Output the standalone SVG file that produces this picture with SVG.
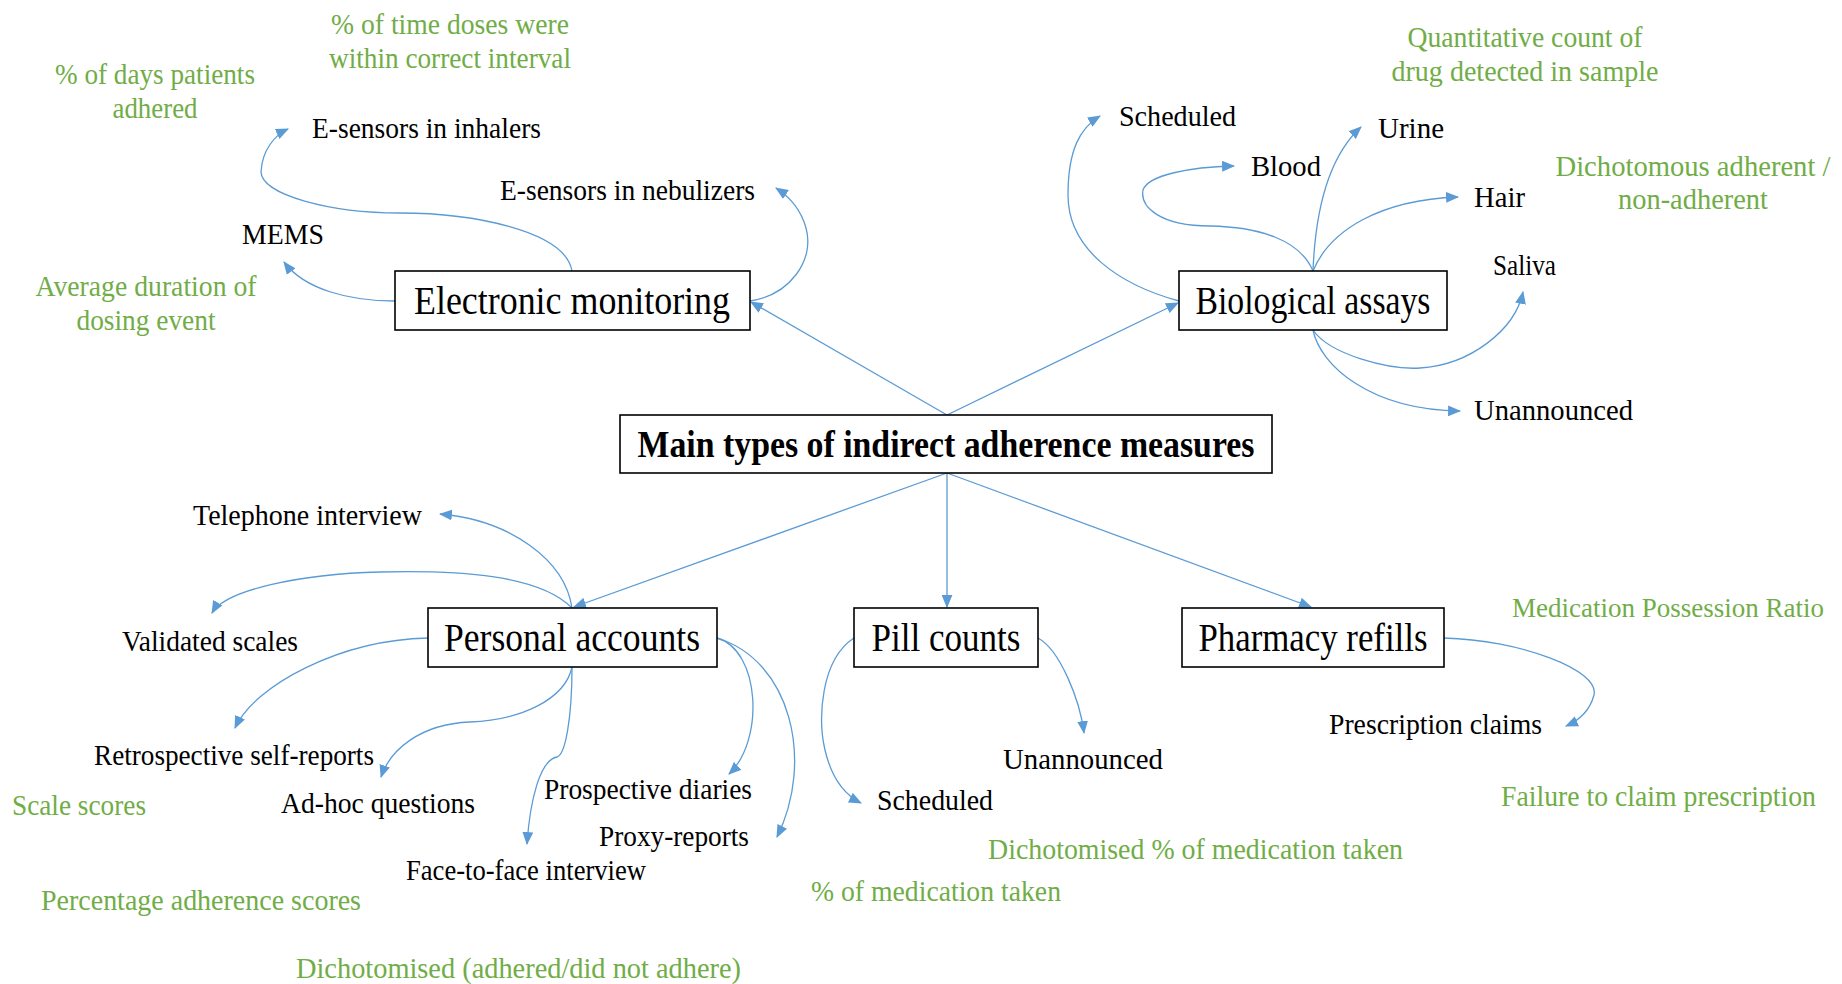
<svg xmlns="http://www.w3.org/2000/svg" width="1842" height="984" viewBox="0 0 1842 984">
  <style>
    .box { fill: #ffffff; stroke: #000000; stroke-width: 1.6; }
    .title { font-family: "Liberation Serif", "Times New Roman", serif; font-size: 38px; font-weight: bold; fill: #000000; }
    .head { font-family: "Liberation Serif", "Times New Roman", serif; font-size: 40px; fill: #000000; }
    .lbl { font-family: "Liberation Serif", "Times New Roman", serif; font-size: 29px; fill: #000000; }
    .note { font-family: "Liberation Serif", "Times New Roman", serif; font-size: 29px; fill: #70AD47; }
    .c { text-anchor: middle; }
    .conn path { fill: none; stroke: #5B9BD5; stroke-width: 1.3; marker-end: url(#arr); }
  </style>
  <defs>
    <marker id="arr" viewBox="0 0 12 10" refX="11" refY="5" markerWidth="13" markerHeight="11" markerUnits="userSpaceOnUse" orient="auto">
      <path d="M0,0 L12,5 L0,10 Z" fill="#5B9BD5"/>
    </marker>
  </defs>
  <rect width="1842" height="984" fill="#ffffff"/>

  <!-- connectors -->
  <g id="connectors" class="conn">
    <!-- main to categories -->
    <path d="M947,415 L751,302"/>
    <path d="M947,415 L1178,303"/>
    <path d="M947,473 L574,607"/>
    <path d="M947,473 L947,607"/>
    <path d="M947,473 L1311,607"/>
    <!-- electronic monitoring -->
    <path d="M572,271 C565,230 470,213 400,213 C330,213 262,195 261,172 C262,150 275,135 288,129"/>
    <path d="M395,301 C350,301 305,290 284,262"/>
    <path d="M750,301 C790,295 815,260 806,228 C801,210 790,197 776,188"/>
    <!-- biological assays -->
    <path d="M1179,301 C1120,285 1068,250 1068,195 C1068,150 1080,128 1100,116"/>
    <path d="M1313,271 C1300,240 1260,227 1210,226 C1160,226 1140,207 1143,190 C1148,175 1190,167 1234,166"/>
    <path d="M1313,271 C1315,220 1325,160 1361,127"/>
    <path d="M1313,271 C1330,230 1380,200 1458,197"/>
    <path d="M1313,330 C1330,355 1390,370 1420,368 C1470,365 1515,330 1523,292"/>
    <path d="M1313,330 C1320,365 1370,410 1460,411"/>
    <!-- personal accounts -->
    <path d="M572,608 C565,560 510,520 440,514"/>
    <path d="M572,608 C540,575 460,570 380,572 C300,574 225,590 212,613"/>
    <path d="M428,638 C340,640 255,685 235,728"/>
    <path d="M572,667 C565,700 520,720 470,722 C420,724 390,750 381,777"/>
    <path d="M572,667 C572,720 565,755 557,757 C540,760 530,800 527,844"/>
    <path d="M717,638 C760,650 765,740 729,774"/>
    <path d="M717,638 C790,660 815,760 777,837"/>
    <!-- pill counts -->
    <path d="M854,638 C820,660 818,720 825,750 C832,780 845,795 861,803"/>
    <path d="M1038,638 C1060,650 1080,700 1084,733"/>
    <!-- pharmacy refills -->
    <path d="M1444,638 C1520,640 1600,670 1594,695 C1590,710 1580,720 1566,726"/>
  </g>

  <!-- central node -->
  <g id="main">
    <rect class="box" x="620" y="415" width="652" height="58"/>
    <text class="title c" x="946" y="457" textLength="617" lengthAdjust="spacingAndGlyphs">Main types of indirect adherence measures</text>
  </g>

  <g id="electronic-monitoring">
    <rect class="box" x="395" y="271" width="355" height="59"/>
    <text class="head c" x="572" y="314" textLength="316" lengthAdjust="spacingAndGlyphs">Electronic monitoring</text>
  </g>

  <g id="biological-assays">
    <rect class="box" x="1179" y="271" width="268" height="59"/>
    <text class="head c" x="1313" y="314" textLength="235" lengthAdjust="spacingAndGlyphs">Biological assays</text>
  </g>

  <g id="personal-accounts">
    <rect class="box" x="428" y="608" width="289" height="59"/>
    <text class="head c" x="572" y="651" textLength="256" lengthAdjust="spacingAndGlyphs">Personal accounts</text>
  </g>

  <g id="pill-counts">
    <rect class="box" x="854" y="608" width="184" height="59"/>
    <text class="head c" x="946" y="651" textLength="149" lengthAdjust="spacingAndGlyphs">Pill counts</text>
  </g>

  <g id="pharmacy-refills">
    <rect class="box" x="1182" y="608" width="262" height="59"/>
    <text class="head c" x="1313" y="651" textLength="229" lengthAdjust="spacingAndGlyphs">Pharmacy refills</text>
  </g>

  <!-- electronic monitoring leaves -->
  <g id="e-sensors-inhalers"><text class="lbl" x="312" y="138" textLength="229" lengthAdjust="spacingAndGlyphs">E-sensors in inhalers</text></g>
  <g id="e-sensors-nebulizers"><text class="lbl" x="500" y="200" textLength="255" lengthAdjust="spacingAndGlyphs">E-sensors in nebulizers</text></g>
  <g id="mems"><text class="lbl" x="242" y="244" textLength="82" lengthAdjust="spacingAndGlyphs">MEMS</text></g>

  <!-- biological assay leaves -->
  <g id="bio-scheduled"><text class="lbl" x="1119" y="126" textLength="117" lengthAdjust="spacingAndGlyphs">Scheduled</text></g>
  <g id="urine"><text class="lbl" x="1378" y="138" textLength="66" lengthAdjust="spacingAndGlyphs">Urine</text></g>
  <g id="blood"><text class="lbl" x="1251" y="176" textLength="70" lengthAdjust="spacingAndGlyphs">Blood</text></g>
  <g id="hair"><text class="lbl" x="1474" y="207" textLength="51" lengthAdjust="spacingAndGlyphs">Hair</text></g>
  <g id="saliva"><text class="lbl" x="1493" y="275" textLength="63" lengthAdjust="spacingAndGlyphs">Saliva</text></g>
  <g id="bio-unannounced"><text class="lbl" x="1474" y="420" textLength="159" lengthAdjust="spacingAndGlyphs">Unannounced</text></g>

  <!-- personal account leaves -->
  <g id="telephone"><text class="lbl" x="193" y="525" textLength="229" lengthAdjust="spacingAndGlyphs">Telephone interview</text></g>
  <g id="validated"><text class="lbl" x="122" y="651" textLength="176" lengthAdjust="spacingAndGlyphs">Validated scales</text></g>
  <g id="retrospective"><text class="lbl" x="94" y="765" textLength="280" lengthAdjust="spacingAndGlyphs">Retrospective self-reports</text></g>
  <g id="ad-hoc"><text class="lbl" x="281" y="813" textLength="194" lengthAdjust="spacingAndGlyphs">Ad-hoc questions</text></g>
  <g id="prospective"><text class="lbl" x="544" y="799" textLength="208" lengthAdjust="spacingAndGlyphs">Prospective diaries</text></g>
  <g id="proxy"><text class="lbl" x="599" y="846" textLength="150" lengthAdjust="spacingAndGlyphs">Proxy-reports</text></g>
  <g id="face-to-face"><text class="lbl" x="406" y="880" textLength="240" lengthAdjust="spacingAndGlyphs">Face-to-face interview</text></g>

  <!-- pill count leaves -->
  <g id="pill-unannounced"><text class="lbl" x="1003" y="769" textLength="160" lengthAdjust="spacingAndGlyphs">Unannounced</text></g>
  <g id="pill-scheduled"><text class="lbl" x="877" y="810" textLength="116" lengthAdjust="spacingAndGlyphs">Scheduled</text></g>

  <!-- pharmacy refill leaf -->
  <g id="prescription-claims"><text class="lbl" x="1329" y="734" textLength="213" lengthAdjust="spacingAndGlyphs">Prescription claims</text></g>

  <!-- outcome notes -->
  <g id="notes">
    <text class="note c" x="450" y="34" textLength="238" lengthAdjust="spacingAndGlyphs">% of time doses were</text>
    <text class="note c" x="450" y="68" textLength="242" lengthAdjust="spacingAndGlyphs">within correct interval</text>
    <text class="note c" x="155" y="84" textLength="200" lengthAdjust="spacingAndGlyphs">% of days patients</text>
    <text class="note c" x="155" y="118" textLength="85" lengthAdjust="spacingAndGlyphs">adhered</text>
    <text class="note c" x="146" y="296" textLength="221" lengthAdjust="spacingAndGlyphs">Average duration of</text>
    <text class="note c" x="146" y="330" textLength="139" lengthAdjust="spacingAndGlyphs">dosing event</text>
    <text class="note c" x="1525" y="47" textLength="235" lengthAdjust="spacingAndGlyphs">Quantitative count of</text>
    <text class="note c" x="1525" y="81" textLength="267" lengthAdjust="spacingAndGlyphs">drug detected in sample</text>
    <text class="note c" x="1693" y="176" textLength="275" lengthAdjust="spacingAndGlyphs">Dichotomous adherent /</text>
    <text class="note c" x="1693" y="209" textLength="150" lengthAdjust="spacingAndGlyphs">non-adherent</text>
    <text class="note" x="1512" y="617" style="font-size:27px">Medication Possession Ratio</text>
    <text class="note" x="1501" y="806" textLength="315" lengthAdjust="spacingAndGlyphs">Failure to claim prescription</text>
    <text class="note" x="988" y="859" textLength="415" lengthAdjust="spacingAndGlyphs">Dichotomised % of medication taken</text>
    <text class="note" x="811" y="901" textLength="250" lengthAdjust="spacingAndGlyphs">% of medication taken</text>
    <text class="note" x="12" y="815" textLength="134" lengthAdjust="spacingAndGlyphs">Scale scores</text>
    <text class="note" x="41" y="910" textLength="320" lengthAdjust="spacingAndGlyphs">Percentage adherence scores</text>
    <text class="note" x="296" y="978" textLength="445" lengthAdjust="spacingAndGlyphs">Dichotomised (adhered/did not adhere)</text>
  </g>
</svg>
